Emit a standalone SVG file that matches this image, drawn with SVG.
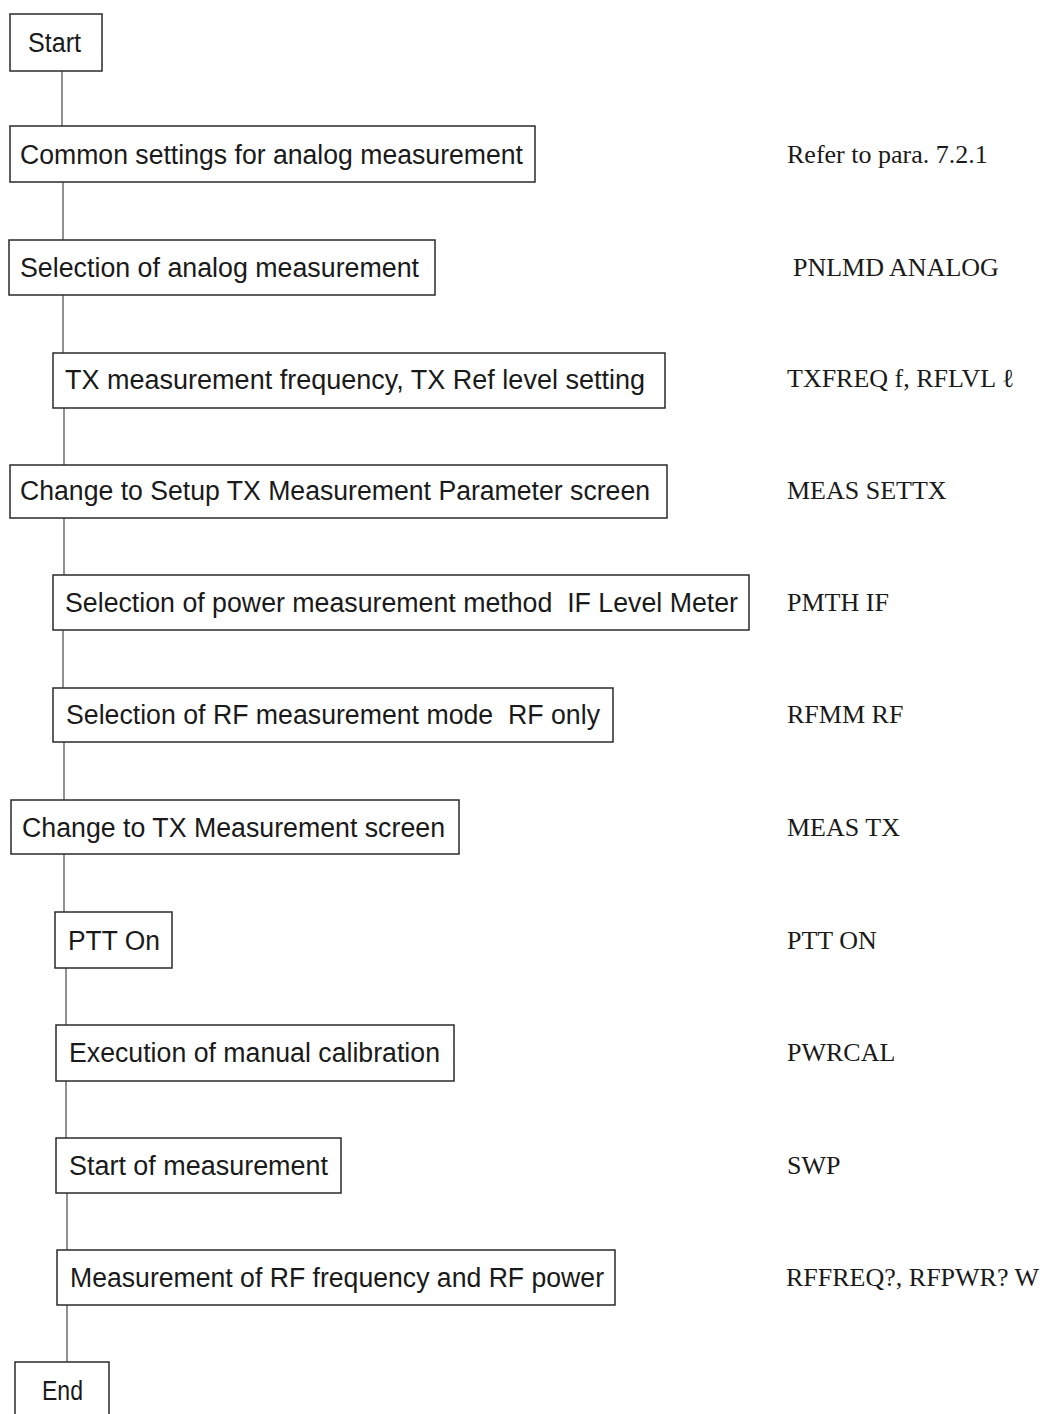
<svg xmlns="http://www.w3.org/2000/svg" width="1050" height="1414" viewBox="0 0 1050 1414">
  <style>
    .box { fill: #ffffff; stroke: #2a2a2a; stroke-width: 1.5; }
    .lbl { font-family: "Liberation Sans", Arial, sans-serif; font-size: 27px; fill: #1a1a1a; white-space: pre; }
    .cmd { font-family: "Liberation Serif", "Times New Roman", serif; font-size: 26px; fill: #1a1a1a; }
    .link { stroke: #555555; stroke-width: 1.3; fill: none; }
  </style>
  <rect width="1050" height="1414" fill="#ffffff"/>

  <!-- vertical connectors between steps -->
  <g id="connectors">
    <line class="link" x1="62" y1="71" x2="62" y2="126"/>
    <line class="link" x1="63" y1="182" x2="63" y2="240"/>
    <line class="link" x1="63" y1="295" x2="63" y2="353"/>
    <line class="link" x1="64" y1="408" x2="64" y2="465"/>
    <line class="link" x1="64" y1="518" x2="64" y2="575"/>
    <line class="link" x1="63" y1="630" x2="63" y2="688"/>
    <line class="link" x1="64" y1="742" x2="64" y2="800"/>
    <line class="link" x1="64" y1="854" x2="64" y2="912"/>
    <line class="link" x1="66" y1="968" x2="66" y2="1025"/>
    <line class="link" x1="66" y1="1081" x2="66" y2="1138"/>
    <line class="link" x1="67" y1="1193" x2="67" y2="1250"/>
    <line class="link" x1="67" y1="1305" x2="67" y2="1362"/>
  </g>

  <g id="start">
    <rect class="box" x="10" y="14" width="92" height="57"/>
    <text class="lbl" x="28" y="52" textLength="53" lengthAdjust="spacingAndGlyphs">Start</text>
  </g>

  <g id="common-settings">
    <rect class="box" x="10" y="126" width="525" height="56"/>
    <text class="lbl" x="20" y="164" textLength="503" lengthAdjust="spacingAndGlyphs">Common settings for analog measurement</text>
    <text class="cmd" x="787" y="163">Refer to para. 7.2.1</text>
  </g>

  <g id="select-analog">
    <rect class="box" x="9" y="240" width="426" height="55"/>
    <text class="lbl" x="20" y="277" textLength="399" lengthAdjust="spacingAndGlyphs">Selection of analog measurement</text>
    <text class="cmd" x="793" y="276">PNLMD ANALOG</text>
  </g>

  <g id="tx-frequency">
    <rect class="box" x="53" y="353" width="612" height="55"/>
    <text class="lbl" x="65" y="389" textLength="580" lengthAdjust="spacingAndGlyphs">TX measurement frequency, TX Ref level setting</text>
    <text class="cmd" x="787" y="387">TXFREQ f, RFLVL ℓ</text>
  </g>

  <g id="setup-tx-screen">
    <rect class="box" x="10" y="465" width="657" height="53"/>
    <text class="lbl" x="20" y="500" textLength="630" lengthAdjust="spacingAndGlyphs">Change to Setup TX Measurement Parameter screen</text>
    <text class="cmd" x="787" y="499">MEAS SETTX</text>
  </g>

  <g id="power-method">
    <rect class="box" x="53" y="575" width="696" height="55"/>
    <text class="lbl" x="65" y="612" textLength="673" lengthAdjust="spacingAndGlyphs">Selection of power measurement method  IF Level Meter</text>
    <text class="cmd" x="787" y="611">PMTH IF</text>
  </g>

  <g id="rf-mode">
    <rect class="box" x="53" y="688" width="560" height="54"/>
    <text class="lbl" x="66" y="724" textLength="534" lengthAdjust="spacingAndGlyphs">Selection of RF measurement mode  RF only</text>
    <text class="cmd" x="787" y="723">RFMM RF</text>
  </g>

  <g id="tx-screen">
    <rect class="box" x="11" y="800" width="448" height="54"/>
    <text class="lbl" x="22" y="837" textLength="423" lengthAdjust="spacingAndGlyphs">Change to TX Measurement screen</text>
    <text class="cmd" x="787" y="836">MEAS TX</text>
  </g>

  <g id="ptt-on">
    <rect class="box" x="55" y="912" width="117" height="56"/>
    <text class="lbl" x="68" y="950" textLength="92" lengthAdjust="spacingAndGlyphs">PTT On</text>
    <text class="cmd" x="787" y="949">PTT ON</text>
  </g>

  <g id="calibration">
    <rect class="box" x="56" y="1025" width="398" height="56"/>
    <text class="lbl" x="69" y="1062" textLength="371" lengthAdjust="spacingAndGlyphs">Execution of manual calibration</text>
    <text class="cmd" x="787" y="1061">PWRCAL</text>
  </g>

  <g id="start-measurement">
    <rect class="box" x="56" y="1138" width="285" height="55"/>
    <text class="lbl" x="69" y="1175" textLength="259" lengthAdjust="spacingAndGlyphs">Start of measurement</text>
    <text class="cmd" x="787" y="1174">SWP</text>
  </g>

  <g id="rf-measurement">
    <rect class="box" x="57" y="1250" width="558" height="55"/>
    <text class="lbl" x="70" y="1287" textLength="534" lengthAdjust="spacingAndGlyphs">Measurement of RF frequency and RF power</text>
    <text class="cmd" x="786" y="1286">RFFREQ?, RFPWR? W</text>
  </g>

  <g id="end">
    <rect class="box" x="15" y="1362" width="94" height="70"/>
    <text class="lbl" x="42" y="1400" textLength="41" lengthAdjust="spacingAndGlyphs">End</text>
  </g>
</svg>
